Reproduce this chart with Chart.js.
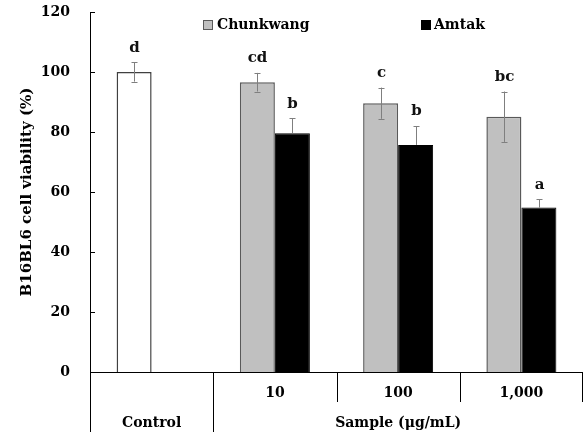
<!DOCTYPE html>
<html>
<head>
<meta charset="utf-8">
<script src="https://cdn.jsdelivr.net/npm/chart.js@4.4.0/dist/chart.umd.min.js"></script>
<style>
html,body{margin:0;padding:0;background:#fff;}
#wrap{width:583px;height:435px;position:relative;}
</style>
</head>
<body>
<div id="wrap"><canvas id="c" width="583" height="435"></canvas></div>
<script>
// ---- data ----
const categories = ['Control', '10', '100', '1,000'];
const chunkwang = [100, 96.6, 89.6, 85.1];
const chunkwangErr = [3.2, 3.1, 5.2, 8.4];
const chunkwangLetters = ['d', 'cd', 'c', 'bc'];
const amtak = [null, 79.6, 75.7, 54.8];
const amtakErr = [null, 5.0, 6.3, 2.8];
const amtakLetters = ['', 'b', 'b', 'a'];
const yTicks = [0, 20, 40, 60, 80, 100, 120];
const groupLabel = 'Sample (\u03bcg/mL)';
const yTitle = 'B16BL6 cell viability (%)';

const FONT = "'DejaVu Serif', serif";

const overlay = {
  id: 'overlay',
  afterDatasetsDraw(chart) {
    const ctx = chart.ctx;
    const x = chart.scales.x, y = chart.scales.y;
    const ca = chart.chartArea;
    ctx.save();
    // inward y tick marks
    ctx.strokeStyle = '#000';
    ctx.lineWidth = 1;
    yTicks.forEach(v => {
      const py = Math.round(y.getPixelForValue(v)) + 0.5;
      ctx.beginPath();
      ctx.moveTo(ca.left, py);
      ctx.lineTo(ca.left + 5, py);
      ctx.stroke();
    });
    // error bars + letters
    const sets = [
      {vals: chunkwang, err: chunkwangErr, letters: chunkwangLetters, both: true},
      {vals: amtak, err: amtakErr, letters: amtakLetters, both: false}
    ];
    sets.forEach((s, di) => {
      const meta = chart.getDatasetMeta(di);
      s.vals.forEach((v, i) => {
        if (v === null) return;
        const bx = Math.round(meta.data[i].x) + 0.5;
        const top = y.getPixelForValue(v + s.err[i]);
        const bot = y.getPixelForValue(v - s.err[i]);
        const mid = y.getPixelForValue(v);
        ctx.strokeStyle = '#7f7f7f';
        ctx.lineWidth = 1;
        ctx.beginPath();
        ctx.moveTo(bx, top);
        ctx.lineTo(bx, s.both ? bot : mid);
        ctx.moveTo(bx - 3, Math.round(top) + 0.5);
        ctx.lineTo(bx + 3, Math.round(top) + 0.5);
        if (s.both) {
          ctx.moveTo(bx - 3, Math.round(bot) + 0.5);
          ctx.lineTo(bx + 3, Math.round(bot) + 0.5);
        }
        ctx.stroke();
        if (s.letters[i]) {
          ctx.fillStyle = '#111';
          ctx.font = 'bold 15px ' + FONT;
          ctx.textAlign = 'center';
          ctx.textBaseline = 'middle';
          ctx.fillText(s.letters[i], bx, top - 14.5);
        }
      });
    });
    // legend
    ctx.font = 'bold 14px ' + FONT;
    ctx.textAlign = 'left';
    ctx.textBaseline = 'middle';
    ctx.fillStyle = '#c0c0c0';
    ctx.fillRect(203.5, 20.5, 9, 9);
    ctx.strokeStyle = '#595959';
    ctx.strokeRect(203.5, 20.5, 9, 9);
    ctx.fillStyle = '#000';
    ctx.fillText('Chunkwang', 217, 25.5);
    ctx.fillRect(421, 20, 10, 10);
    ctx.fillText('Amtak', 434, 25.5);

    // hierarchical x axis
    const half = (x.getPixelForValue(1) - x.getPixelForValue(0)) / 2;
    const bottom = chart.height - 3;
    const midRow = ca.bottom + 30;
    ctx.strokeStyle = '#000';
    ctx.lineWidth = 1;
    const edges = [];
    for (let i = 0; i <= categories.length; i++) {
      edges.push(i === 0 ? x.getPixelForValue(0) - half : x.getPixelForValue(i - 1) + half);
    }
    edges.forEach((ex, i) => {
      let px = Math.round(ex) + 0.5;
      if (px > chart.width - 0.5) px = chart.width - 0.5;
      const endY = (i <= 1) ? bottom : midRow;
      ctx.beginPath();
      ctx.moveTo(px, ca.bottom);
      ctx.lineTo(px, endY);
      ctx.stroke();
    });
    ctx.fillStyle = '#000';
    ctx.font = 'bold 14px ' + FONT;
    ctx.textAlign = 'center';
    ctx.textBaseline = 'middle';
    for (let i = 1; i < categories.length; i++) {
      ctx.fillText(categories[i], x.getPixelForValue(i), ca.bottom + 21);
    }
    ctx.fillText(categories[0], x.getPixelForValue(0), ca.bottom + 51);
    ctx.fillText(groupLabel, (edges[1] + edges[edges.length - 1]) / 2, ca.bottom + 51);
    ctx.restore();
  }
};

new Chart(document.getElementById('c'), {
  type: 'bar',
  data: {
    labels: categories,
    datasets: [
      {
        label: 'Chunkwang',
        data: chunkwang,
        backgroundColor: ['#ffffff', '#c0c0c0', '#c0c0c0', '#c0c0c0'],
        borderColor: ['#404040', '#595959', '#595959', '#595959'],
        borderWidth: 1.5,
        borderSkipped: 'bottom'
      },
      {
        label: 'Amtak',
        data: amtak,
        backgroundColor: '#000000',
        borderColor: '#000000',
        borderWidth: 1,
        borderSkipped: 'bottom'
      }
    ]
  },
  options: {
    responsive: false,
    animation: false,
    devicePixelRatio: 1,
    layout: {padding: {top: 12, right: 0, left: 0, bottom: 0}},
    plugins: {legend: {display: false}, tooltip: {enabled: false}},
    datasets: {bar: {categoryPercentage: 0.568, barPercentage: 1}},
    scales: {
      x: {
        type: 'category',
        offset: true,
        grid: {display: false, drawTicks: false},
        border: {display: true, color: '#000', width: 1},
        ticks: {display: false},
        afterFit(s) { s.height = 63; }
      },
      y: {
        min: 0, max: 120,
        afterBuildTicks(s) { s.ticks = yTicks.map(v => ({value: v})); },
        grid: {display: false, drawTicks: true, tickLength: 20},
        border: {display: true, color: '#000', width: 1},
        ticks: {color: '#000', padding: 0, font: {family: FONT, size: 14, weight: 'bold'}},
        title: {display: true, text: yTitle, color: '#000', padding: {top: 18, bottom: 0}, font: {family: FONT, size: 15, weight: 'bold'}},
        afterFit(s) { s.width = 90; }
      }
    }
  },
  plugins: [overlay]
});
</script>
</body>
</html>
